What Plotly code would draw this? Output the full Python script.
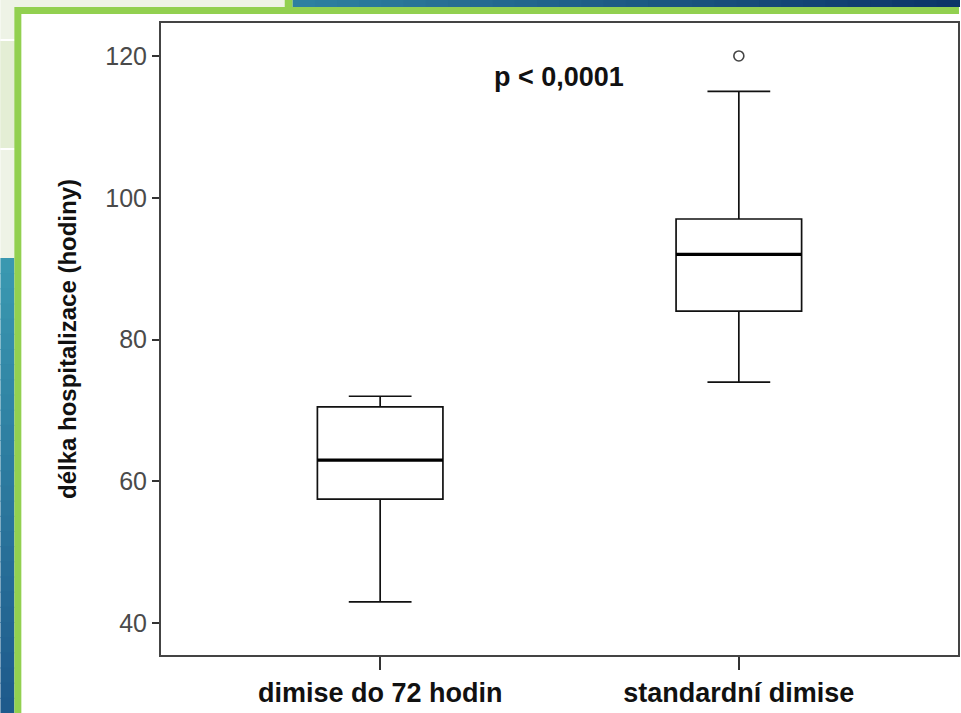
import plotly.graph_objects as go

# ---- data ----
categories = ["dimise do 72 hodin", "standardní dimise"]
q1_vals = [57.5, 84.0]
median_vals = [63.0, 92.0]
q3_vals = [70.5, 97.0]
lower_fence = [43.0, 74.0]
upper_fence = [72.0, 115.0]
outlier_cat = ["standardní dimise"]
outlier_val = [120.0]
y_ticks = [40, 60, 80, 100, 120]
y_title = "délka hospitalizace (hodiny)"
p_text = "p < 0,0001"

W, H = 961, 713
L, R, T, B = 161, 960, 23, 655

def px(xp):
    return (xp - L) / (R - L)

def py(yp):
    return (B - yp) / (B - T)

fig = go.Figure()

fig.add_trace(go.Box(
    x=categories, q1=q1_vals, median=median_vals, q3=q3_vals,
    lowerfence=lower_fence, upperfence=upper_fence,
    width=0.35, whiskerwidth=0.5,
    fillcolor="white", line=dict(color="#111111", width=1.7),
    boxpoints=False, hoverinfo="skip", showlegend=False,
))
# thick median line drawn as a degenerate box
fig.add_trace(go.Box(
    x=categories, q1=median_vals, median=median_vals, q3=median_vals,
    lowerfence=median_vals, upperfence=median_vals,
    width=0.35, whiskerwidth=0.5,
    fillcolor="rgba(0,0,0,0)", line=dict(color="#000000", width=3.2),
    boxpoints=False, hoverinfo="skip", showlegend=False,
))
fig.add_trace(go.Scatter(
    x=outlier_cat, y=outlier_val, mode="markers",
    marker=dict(symbol="circle-open", size=10, color="#444444", line=dict(width=1.6)),
    hoverinfo="skip", showlegend=False,
))

shapes = []
def rect(x0, y0, x1, y1, color):
    shapes.append(dict(type="rect", xref="paper", yref="paper", layer="below",
                       x0=px(x0), x1=px(x1), y0=py(y1), y1=py(y0),
                       fillcolor=color, line=dict(width=0)))

def lerp(c0, c1, t):
    return "rgb(%d,%d,%d)" % tuple(round(a + (b - a) * t) for a, b in zip(c0, c1))

# light top-left panel
rect(0, 0, 285, 258, "#eef3e6")
rect(0, 41, 285, 148, "#e4eed5")
rect(0, 39, 285, 41, "#ffffff")
rect(0, 148, 285, 150, "#ffffff")
rect(285, 0, 293, 8, "#92d050")
# top blue gradient
n = 30
for i in range(n):
    x0 = 293 + (961 - 293) * i / n
    x1 = 293 + (961 - 293) * (i + 1) / n + 1
    rect(x0, 0, x1, 7, lerp((46, 128, 160), (12, 52, 104), i / (n - 1)))
# left blue gradient
for i in range(n):
    y0 = 258 + (713 - 258) * i / n
    y1 = 258 + (713 - 258) * (i + 1) / n + 1
    rect(0, y0, 14, y1, lerp((58, 152, 176), (30, 90, 140), i / (n - 1)))
# green frame + white page
rect(14, 7, 961, 713, "#92d050")
rect(21, 14, 961, 713, "#ffffff")

fig.update_layout(
    width=W, height=H,
    margin=dict(l=L, r=W - R, t=T, b=H - B, pad=0),
    paper_bgcolor="white", plot_bgcolor="white",
    boxmode="overlay",
    shapes=shapes,
    font=dict(family="Liberation Sans, Arial, sans-serif", color="#222222"),
    annotations=[dict(
        text="<b>%s</b>" % p_text, xref="paper", yref="paper",
        x=px(560), y=py(77), xanchor="center", yanchor="middle",
        showarrow=False, font=dict(size=27, color="#111111"),
    )],
)
fig.update_xaxes(
    type="category", range=[-0.611, 1.611],
    showline=True, linecolor="#444444", linewidth=2, mirror=True,
    ticks="outside", ticklen=13, tickwidth=1.5, tickcolor="#333333",
    tickfont=dict(size=27, color="#111111", family="Liberation Sans, Arial, sans-serif"),
    tickprefix="<b>", ticksuffix="</b>",
    showgrid=False, zeroline=False, fixedrange=True,
)
fig.update_yaxes(
    range=[35.5, 124.65], tickvals=y_ticks,
    showline=True, linecolor="#444444", linewidth=2, mirror=True,
    ticks="outside", ticklen=7, tickwidth=2, tickcolor="#333333",
    tickfont=dict(size=25, color="#4a4a4a"),
    title=dict(text="<b>%s</b>" % y_title, font=dict(size=24, color="#111111"), standoff=22),
    showgrid=False, zeroline=False, fixedrange=True,
)

fig.write_html(
    "out.html",
    config={"displayModeBar": False},
    post_script="document.body.style.margin='0';document.body.style.overflow='hidden';",
)
